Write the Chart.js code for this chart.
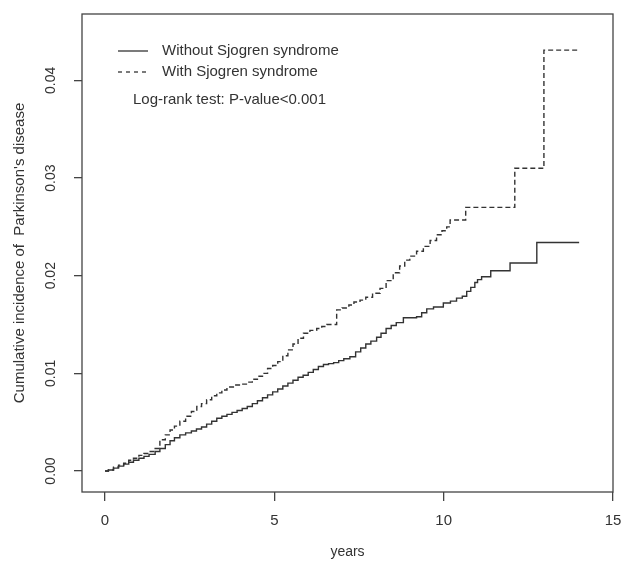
<!DOCTYPE html>
<html>
<head>
<meta charset="utf-8">
<script src="https://cdn.jsdelivr.net/npm/chart.js@4/dist/chart.umd.min.js"></script>
<style>
  html, body { margin: 0; padding: 0; background: #fff; }
  #wrap { width: 621px; height: 563px; }
</style>
</head>
<body>
<div id="wrap"><canvas id="mycanvas" width="621" height="563"></canvas></div>
<script>
// Kaplan-Meier style cumulative incidence
var withoutYears = [0, 0.10, 0.25, 0.40, 0.55, 0.70, 0.84, 1.00, 1.15, 1.30, 1.48, 1.62, 1.78, 1.92, 2.05, 2.21, 2.38, 2.55, 2.70, 2.85,
    3.00, 3.15, 3.30, 3.45, 3.60, 3.75, 3.90, 4.05, 4.20, 4.35, 4.50, 4.65, 4.80, 4.95, 5.10, 5.25, 5.40, 5.55, 5.70, 5.85,
    6.00, 6.15, 6.30, 6.45, 6.60, 6.75, 6.90, 7.05, 7.23, 7.40, 7.55, 7.70, 7.85, 8.02, 8.15, 8.30, 8.45, 8.60, 8.81, 9.20,
    9.35, 9.50, 9.70, 9.99, 10.20, 10.38, 10.55, 10.68, 10.80, 10.92, 11.00, 11.12, 11.39, 11.96, 12.75, 14.00];
var withoutValues = [0, 0.0001, 0.0003, 0.0005, 0.0007, 0.0009, 0.0011, 0.0013, 0.0015, 0.0017, 0.0020, 0.0023, 0.0027, 0.0031, 0.0034, 0.0037, 0.0039, 0.0041, 0.0043, 0.0045,
    0.0048, 0.0051, 0.0054, 0.0056, 0.0058, 0.0060, 0.0062, 0.0064, 0.0066, 0.0069, 0.0072, 0.0075, 0.0078, 0.0081, 0.0084, 0.0087, 0.0090, 0.0093, 0.0096, 0.0098,
    0.0101, 0.0104, 0.0107, 0.0109, 0.0110, 0.0111, 0.0113, 0.0115, 0.0117, 0.0122, 0.0126, 0.0130, 0.0133, 0.0137, 0.0141, 0.0146, 0.0149, 0.0152, 0.0157, 0.0158,
    0.0162, 0.0166, 0.0168, 0.0172, 0.0174, 0.0177, 0.0179, 0.0184, 0.0188, 0.0193, 0.0196, 0.0199, 0.0205, 0.0213, 0.0234, 0.0234];

var withYears = [0, 0.10, 0.25, 0.40, 0.55, 0.70, 0.84, 1.00, 1.15, 1.30, 1.48, 1.62, 1.78, 1.92, 2.05, 2.21, 2.38, 2.55, 2.71, 2.85,
    3.00, 3.15, 3.30, 3.45, 3.60, 3.79, 4.00, 4.20, 4.35, 4.50, 4.65, 4.80, 4.95, 5.10, 5.25, 5.40, 5.55, 5.70, 5.86, 6.05,
    6.25, 6.40, 6.55, 6.84, 7.00, 7.20, 7.35, 7.53, 7.70, 7.90, 8.12, 8.30, 8.51, 8.70, 8.85, 9.00, 9.20, 9.40, 9.60, 9.79,
    9.95, 10.09, 10.19, 10.65, 12.10, 12.96, 14.00];
var withValues = [0, 0.0001, 0.0004, 0.0006, 0.0008, 0.0011, 0.0013, 0.0016, 0.0018, 0.0020, 0.0023, 0.0032, 0.0037, 0.0042, 0.0046, 0.0051, 0.0056, 0.0061, 0.0066, 0.0069,
    0.0073, 0.0077, 0.0080, 0.0083, 0.0086, 0.0088, 0.0089, 0.0091, 0.0094, 0.0097, 0.0100, 0.0105, 0.0108, 0.0112, 0.0118, 0.0124, 0.0130, 0.0136, 0.0141, 0.0144,
    0.0146, 0.0148, 0.0150, 0.0165, 0.0167, 0.0170, 0.0173, 0.0175, 0.0178, 0.0182, 0.0187, 0.0195, 0.0203, 0.0210, 0.0216, 0.0220, 0.0225, 0.0230, 0.0236, 0.0242,
    0.0246, 0.0250, 0.0257, 0.0270, 0.0310, 0.0431, 0.0431];

var seriesNames = ["Without Sjogren syndrome", "With Sjogren syndrome"];
var xTicks = [0, 5, 10, 15];
var yTicks = [0, 0.01, 0.02, 0.03, 0.04];
var testNote = "Log-rank test: P-value<0.001";

function toPoints(xs, ys) {
    var pts = [];
    for (var i in xs) {
        pts.push({ x: xs[i], y: ys[i] });
    }
    return pts;
}

var ink = '#333333';
var fontFamily = '"Liberation Sans", Arial, sans-serif';

// no auto label padding, the plot box sits where the reference has it
function noPad(scale) {
    scale.paddingLeft = 0;
    scale.paddingRight = 0;
    scale.paddingTop = 0;
    scale.paddingBottom = 0;
}

// box around plot + legend drawn inside the plot region
var boxPlugin = {
    id: 'rbox',
    afterDraw: function (chart) {
        var ctx = chart.ctx;
        var a = chart.chartArea;
        ctx.save();
        ctx.strokeStyle = '#444444';
        ctx.lineWidth = 1.3;
        ctx.setLineDash([]);
        ctx.strokeRect(a.left, a.top, a.right - a.left, a.bottom - a.top);

        ctx.font = '15px ' + fontFamily;
        ctx.fillStyle = ink;
        ctx.textBaseline = 'middle';
        ctx.textAlign = 'left';
        var rows = [51, 72];
        for (var i = 0; i < 2; i++) {
            ctx.strokeStyle = ink;
            ctx.lineWidth = 1.3;
            ctx.setLineDash(i === 0 ? [] : [4, 4]);
            ctx.beginPath();
            ctx.moveTo(118, rows[i]);
            ctx.lineTo(148, rows[i]);
            ctx.stroke();
            ctx.fillText(seriesNames[i], 162, rows[i]);
        }
        ctx.fillText(testNote, 133, 100);
        ctx.restore();
    }
};

var chartdata = {
    datasets: [
        {
            label: seriesNames[0],
            data: toPoints(withoutYears, withoutValues),
            stepped: true,
            borderColor: ink,
            borderWidth: 1.4,
            pointRadius: 0,
            fill: false
        },
        {
            label: seriesNames[1],
            data: toPoints(withYears, withValues),
            stepped: true,
            borderColor: ink,
            borderWidth: 1.4,
            borderDash: [5, 3],
            pointRadius: 0,
            fill: false
        }
    ]
};

var ctx = document.getElementById('mycanvas');
var chart = new Chart(ctx, {
    type: 'line',
    data: chartdata,
    plugins: [boxPlugin],
    options: {
        responsive: false,
        animation: false,
        layout: { padding: { top: 14, right: 8, left: 0, bottom: 0 } },
        plugins: {
            legend: { display: false },
            tooltip: { enabled: false }
        },
        scales: {
            x: {
                type: 'linear',
                min: -0.68,
                max: 15.0,
                afterBuildTicks: function (scale) {
                    scale.ticks = xTicks.map(function (v) { return { value: v }; });
                },
                afterFit: function (scale) { scale.height = 71; noPad(scale); },
                grid: { display: true, drawOnChartArea: false, drawTicks: true, tickLength: 9, color: '#444444', lineWidth: 1.3 },
                border: { display: false },
                ticks: {
                    color: ink,
                    padding: 11,
                    maxRotation: 0,
                    font: { family: fontFamily, size: 15 },
                    callback: function (v) { return String(v); }
                },
                title: {
                    display: true,
                    text: 'years',
                    color: ink,
                    font: { family: fontFamily, size: 14 },
                    padding: { top: 0, bottom: 2 }
                }
            },
            y: {
                type: 'linear',
                min: -0.00215,
                max: 0.0468,
                afterBuildTicks: function (scale) {
                    scale.ticks = yTicks.map(function (v) { return { value: v }; });
                },
                afterFit: function (scale) { scale.width = 82; noPad(scale); },
                grid: { display: true, drawOnChartArea: false, drawTicks: true, tickLength: 8, color: '#444444', lineWidth: 1.3 },
                border: { display: false },
                ticks: {
                    color: ink,
                    padding: 9,
                    minRotation: 90,
                    maxRotation: 90,
                    crossAlign: 'center',
                    font: { family: fontFamily, size: 14 },
                    callback: function (v) { return v.toFixed(2); }
                },
                title: {
                    display: true,
                    text: "Cumulative incidence of  Parkinson's disease",
                    color: ink,
                    font: { family: fontFamily, size: 15 },
                    padding: { top: 11, bottom: 0 }
                }
            }
        }
    }
});
</script>
</body>
</html>
